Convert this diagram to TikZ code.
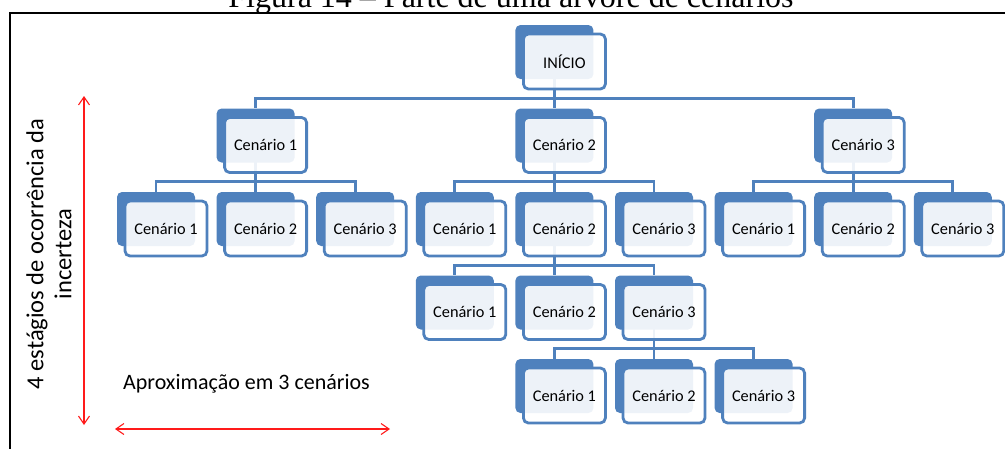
\documentclass[tikz,border=0pt]{standalone}
\usepackage{fontspec}
\setmainfont{Carlito}
\newfontfamily\capfont{Liberation Serif}
\usetikzlibrary{arrows.meta}
\definecolor{sablue}{HTML}{4F81BD}
\definecolor{arrred}{HTML}{FF1A1A}
\pgfdeclarelayer{bg}
\pgfsetlayers{bg,main}
\newcommand\scen[4]{%
  \pgfmathsetmacro\scbx{117+99.6*#2}%
  \pgfmathsetmacro\scby{25+83.5*#3}%
  \node[backbox] (#1-b) at (\scbx+39, \scby+27) {};
  \node[frontbox] (#1) at (\scbx+49, \scby+36.5) {#4};
}
\newcommand\conn[2]{%
  \draw[connline] (#1-b.center) |- ([yshift=10pt]#2-b.north) -- (#2-b.north);
}
\begin{document}
\begin{tikzpicture}[x=1pt,y=-1pt,
  backbox/.style={fill=sablue, rounded corners=5pt, minimum width=78pt,
    minimum height=54pt, inner sep=0pt, draw=none},
  frontbox/.style={draw=sablue, line width=2.8pt, fill=white, fill opacity=0.9,
    text opacity=1, rounded corners=5pt, minimum width=82pt, minimum height=55pt,
    inner sep=0pt, font=\fontsize{16.3}{19}\selectfont},
  connline/.style={draw=sablue, line width=2.8pt},
  redarrow/.style={draw=arrred, line width=1.1pt,
    {Straight Barb[length=8pt,width=11pt]}-{Straight Barb[length=8pt,width=11pt]}},
  frame/.style={draw=black, line width=2.6pt}]
\useasboundingbox (0,0) rectangle (1005,448);
\begin{scope}
\clip (0,0) rectangle (1005,448);
\node[font=\capfont\fontsize{32}{36}\selectfont, anchor=base, inner sep=0pt] (cap) at (511,7) {Figura 14 – Parte de uma árvore de cenários};
\coordinate (fbl) at (10,452);
\coordinate (ftl) at (10,13);
\coordinate (ftr) at (1010,13);
\draw[frame] (fbl) -- (ftl) -- (ftr);
\end{scope}

\scen{root}{4}{0}{INÍCIO}
\scen{a}{1}{1}{Cenário 1}
\scen{b}{4}{1}{Cenário 2}
\scen{c}{7}{1}{Cenário 3}
\scen{a1}{0}{2}{Cenário 1}
\scen{a2}{1}{2}{Cenário 2}
\scen{a3}{2}{2}{Cenário 3}
\scen{b1}{3}{2}{Cenário 1}
\scen{b2}{4}{2}{Cenário 2}
\scen{b3}{5}{2}{Cenário 3}
\scen{c1}{6}{2}{Cenário 1}
\scen{c2}{7}{2}{Cenário 2}
\scen{c3}{8}{2}{Cenário 3}
\scen{d1}{3}{3}{Cenário 1}
\scen{d2}{4}{3}{Cenário 2}
\scen{d3}{5}{3}{Cenário 3}
\scen{e1}{4}{4}{Cenário 1}
\scen{e2}{5}{4}{Cenário 2}
\scen{e3}{6}{4}{Cenário 3}

\begin{pgfonlayer}{bg}
\conn{root}{a}\conn{root}{b}\conn{root}{c}
\conn{a}{a1}\conn{a}{a2}\conn{a}{a3}
\conn{b}{b1}\conn{b}{b2}\conn{b}{b3}
\conn{c}{c1}\conn{c}{c2}\conn{c}{c3}
\conn{b2}{d1}\conn{b2}{d2}\conn{b2}{d3}
\conn{d3}{e1}\conn{d3}{e2}\conn{d3}{e3}
\end{pgfonlayer}

\node[rotate=90, align=center, inner sep=0pt, font=\fontsize{24.5}{28}\selectfont] (stg) at (49,254) {4 estágios de ocorrência da\\incerteza};
\node[anchor=base west, inner sep=0pt, font=\fontsize{22}{26}\selectfont] (apx) at (123,389) {Aproximação em 3 cenários};

\coordinate (vt) at (84,96);
\coordinate (vb) at (84,425);
\draw[redarrow] (vt) -- (vb);
\coordinate (hl) at (115,429);
\coordinate (hr) at (390,429);
\draw[redarrow] (hl) -- (hr);
\end{tikzpicture}
\end{document}
